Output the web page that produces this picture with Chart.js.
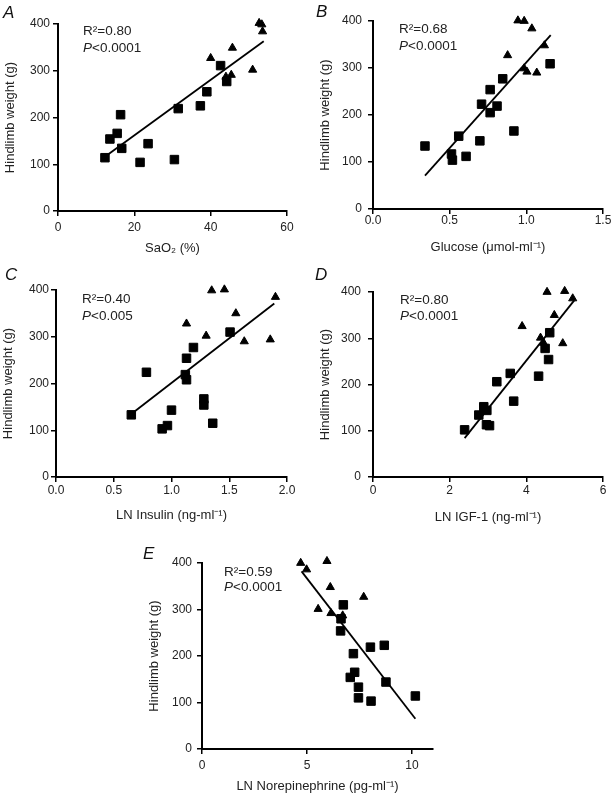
<!DOCTYPE html>
<html>
<head>
<meta charset="utf-8">
<script src="https://cdn.jsdelivr.net/npm/chart.js@4.4.1/dist/chart.umd.min.js"></script>
<style>
  html, body { margin: 0; padding: 0; background: #fff; }
  body { width: 613px; height: 793px; position: relative; overflow: hidden; }
  canvas { position: absolute; }
</style>
</head>
<body>
<script>
// hindlimb weight (g) against each plasma measure, squares and triangles are the two groups
const yTicks = [0, 100, 200, 300, 400];

// A - SaO2 (%)
const sao2SqX = [12.3, 13.6, 15.5, 16.4, 16.7, 21.5, 23.6, 30.5, 31.5, 37.3, 39.0, 42.6, 44.2];
const sao2SqY = [114, 154, 166, 206, 134, 104, 144, 110, 219, 225, 255, 311, 277];
const sao2TriX = [52.7, 53.4, 53.6, 45.7, 40.0, 51.0, 45.4, 44.0];
const sao2TriY = [402, 399, 384, 349, 327, 302, 291, 287];
const sao2FitX = [12.3, 53.9];
const sao2FitY = [116, 363];
const sao2Ticks = [0, 20, 40, 60];

// B - glucose
const gluSqX = [0.339, 0.512, 0.518, 0.559, 0.607, 0.697, 0.708, 0.764, 0.764, 0.809, 0.846, 0.919, 1.155];
const gluSqY = [134, 117, 104, 155, 112, 145, 223, 254, 205, 219, 277, 166, 309];
const gluTriX = [0.945, 0.986, 1.036, 1.118, 0.878, 0.986, 1.004, 1.068];
const gluTriY = [401, 400, 384, 348, 327, 299, 292, 290];
const gluFitX = [0.339, 1.159];
const gluFitY = [71, 370];
const gluTicks = [0, 0.5, 1.0, 1.5];

// C - LN insulin
const insSqX = [0.652, 0.783, 0.919, 0.965, 1.0, 1.13, 1.12, 1.13, 1.19, 1.28, 1.28, 1.357, 1.507];
const insSqY = [133, 224, 103, 110, 143, 254, 219, 208, 277, 167, 154, 115, 310];
const insTriX = [1.348, 1.458, 1.9, 1.557, 1.13, 1.30, 1.63, 1.855];
const insTriY = [399, 401, 385, 350, 328, 302, 290, 294];
const insFitX = [0.638, 1.89];
const insFitY = [132, 371];
const insTicks = [0, 0.5, 1.0, 1.5, 2.0];

// D - LN IGF-1
const igfSqX = [2.39, 2.76, 2.89, 2.97, 2.96, 3.04, 3.23, 3.58, 3.67, 4.32, 4.61, 4.49, 4.58];
const igfSqY = [102, 134, 152, 144, 113, 111, 206, 224, 164, 218, 312, 278, 254];
const igfTriX = [4.54, 5.0, 5.21, 4.73, 3.89, 4.37, 4.95, 4.45];
const igfTriY = [400, 402, 386, 350, 326, 301, 289, 290];
const igfFitX = [2.39, 5.25];
const igfFitY = [84, 382];
const igfTicks = [0, 2, 4, 6];

// E - LN norepinephrine
const neSqX = [6.73, 6.62, 6.60, 7.21, 7.06, 7.27, 7.45, 7.45, 8.02, 8.68, 8.05, 8.76, 10.16];
const neSqY = [310, 280, 254, 205, 154, 165, 133, 110, 219, 223, 103, 144, 114];
const neTriX = [4.70, 4.98, 5.95, 6.11, 5.53, 6.14, 6.70, 7.70];
const neTriY = [400, 386, 404, 348, 301, 292, 287, 327];
const neFitX = [4.74, 10.16];
const neFitY = [382, 65];
const neTicks = [0, 5, 10];

const r2Labels = ['0.80', '0.68', '0.40', '0.80', '0.59'];
const pLabels = ['0.0001', '0.0001', '0.005', '0.0001', '0.0001'];

Chart.defaults.font.family = '"Liberation Sans", Arial, sans-serif';
Chart.defaults.color = '#222';

const pts = (xs, ys) => xs.map((x, i) => ({ x: x, y: ys[i] }));

// text inside each panel: panel letter + R2 / P
const panelText = {
  id: 'panelText',
  afterDraw(chart, args, o) {
    const ctx = chart.ctx;
    const area = chart.chartArea;
    const fam = '"Liberation Sans", Arial, sans-serif';
    ctx.save();
    ctx.fillStyle = '#111';
    ctx.font = 'italic 17px ' + fam;
    ctx.textBaseline = 'alphabetic';
    ctx.fillText(o.letter, o.letterX, o.letterY);

    ctx.fillStyle = '#222';
    ctx.textBaseline = 'middle';
    const x = area.left + o.dx;
    ctx.font = '13.5px ' + fam;
    ctx.fillText('R²=' + o.r2, x, area.top + o.dy1);
    ctx.font = 'italic 13.5px ' + fam;
    ctx.fillText('P', x, area.top + o.dy2);
    const w = ctx.measureText('P').width;
    ctx.font = '13.5px ' + fam;
    ctx.fillText('<' + o.p, x + w, area.top + o.dy2);
    ctx.restore();
  }
};

const panels = [
  { letter: 'A', sqX: sao2SqX, sqY: sao2SqY, triX: sao2TriX, triY: sao2TriY, fitX: sao2FitX, fitY: sao2FitY,
    xTicks: sao2Ticks, xMax: 60, dec: 0, xTitle: 'SaO₂ (%)',
    left: -6, top: 0, w: 306, h: 256, padTop: 24, padRight: 13, xH: 45, xPad: 4.8, yPad: 3,
    letterX: 9, letterY: 18, dx: 25, dy1: 7, dy2: 24 },
  { letter: 'B', sqX: gluSqX, sqY: gluSqY, triX: gluTriX, triY: gluTriY, fitX: gluFitX, fitY: gluFitY,
    xTicks: gluTicks, xMax: 1.5, dec: 1, xTitle: 'Glucose (μmol-ml⁻¹)',
    left: 309, top: 0, w: 304, h: 255, padTop: 21, padRight: 10, xH: 46, xPad: -1, yPad: 6,
    letterX: 7, letterY: 17, dx: 26, dy1: 8, dy2: 25 },
  { letter: 'C', sqX: insSqX, sqY: insSqY, triX: insTriX, triY: insTriY, fitX: insFitX, fitY: insFitY,
    xTicks: insTicks, xMax: 2, dec: 1, xTitle: 'LN Insulin (ng-ml⁻¹)',
    left: -8, top: 258, w: 308, h: 265, padTop: 32, padRight: 13, xH: 46, xPad: 1, yPad: 2,
    letterX: 13, letterY: 22, dx: 26, dy1: 9, dy2: 26 },
  { letter: 'D', sqX: igfSqX, sqY: igfSqY, triX: igfTriX, triY: igfTriY, fitX: igfFitX, fitY: igfFitY,
    xTicks: igfTicks, xMax: 6, dec: 0, xTitle: 'LN IGF-1 (ng-ml⁻¹)',
    left: 309, top: 258, w: 304, h: 267, padTop: 34, padRight: 10, xH: 48, xPad: 1, yPad: 7,
    letterX: 6, letterY: 22, dx: 27, dy1: 8, dy2: 24 },
  { letter: 'E', sqX: neSqX, sqY: neSqY, triX: neTriX, triY: neTriY, fitX: neFitX, fitY: neFitY,
    xTicks: neTicks, xMax: 11, dec: 0, xTitle: 'LN Norepinephrine (pg-ml⁻¹)',
    left: 138, top: 530, w: 310, h: 264, padTop: 33, padRight: 15, xH: 45, xPad: 4.8, yPad: 5,
    letterX: 5, letterY: 29, dx: 22, dy1: 9, dy2: 24 }
];

const axisGrid = { display: true, drawOnChartArea: false, drawTicks: true, tickLength: 5, color: '#000', lineWidth: 1.5 };
const axisBorder = { display: true, color: '#000', width: 2 };

panels.forEach((p, i) => {
  const cv = document.createElement('canvas');
  cv.width = p.w;
  cv.height = p.h;
  cv.style.left = p.left + 'px';
  cv.style.top = p.top + 'px';
  cv.style.width = p.w + 'px';
  cv.style.height = p.h + 'px';
  document.body.appendChild(cv);

  new Chart(cv, {
    type: 'scatter',
    data: {
      datasets: [
        { data: pts(p.fitX, p.fitY), showLine: true, pointRadius: 0, borderColor: '#000', borderWidth: 1.8, clip: false },
        { data: pts(p.sqX, p.sqY), pointStyle: 'rect', pointRadius: 6, backgroundColor: '#000', borderColor: '#000', borderWidth: 1, clip: false },
        { data: pts(p.triX, p.triY), pointStyle: 'triangle', pointRadius: 4.7, backgroundColor: '#000', borderColor: '#000', borderWidth: 1, clip: false }
      ]
    },
    options: {
      responsive: false,
      animation: false,
      devicePixelRatio: 1,
      layout: { padding: { left: 0, top: p.padTop, right: p.padRight, bottom: 0 } },
      plugins: {
        legend: { display: false },
        tooltip: { enabled: false },
        panelText: { letter: p.letter, letterX: p.letterX, letterY: p.letterY, dx: p.dx, dy1: p.dy1, dy2: p.dy2, r2: r2Labels[i], p: pLabels[i] }
      },
      scales: {
        x: {
          type: 'linear', min: 0, max: p.xMax,
          afterBuildTicks: s => { s.ticks = p.xTicks.map(v => ({ value: v })); },
          afterFit: s => { s.height = p.xH; },
          ticks: { font: { size: 12 }, padding: p.xPad, maxRotation: 0, callback: v => v.toFixed(p.dec) },
          grid: axisGrid, border: axisBorder,
          title: { display: true, text: p.xTitle, font: { size: 13 }, padding: { top: 0, bottom: 0 } }
        },
        y: {
          type: 'linear', min: 0, max: 400,
          afterBuildTicks: s => { s.ticks = yTicks.map(v => ({ value: v })); },
          afterFit: s => { s.width = 64; },
          ticks: { font: { size: 12 }, padding: p.yPad },
          grid: axisGrid, border: axisBorder,
          title: { display: true, text: 'Hindlimb weight (g)', font: { size: 13 }, padding: { top: 8.2, bottom: 0 } }
        }
      }
    },
    plugins: [panelText]
  });
});
</script>
</body>
</html>
